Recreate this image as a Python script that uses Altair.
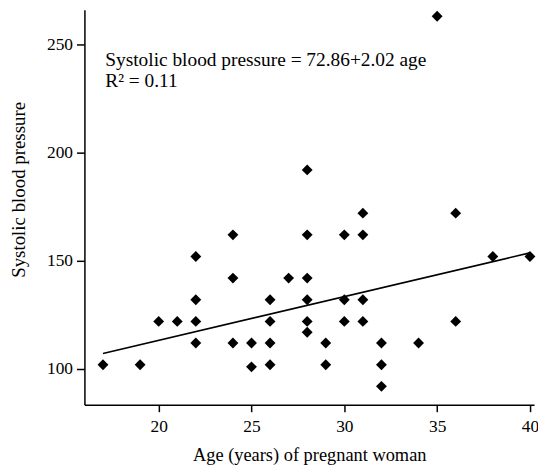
import altair as alt
import pandas as pd

ages = [17, 19, 20, 21, 22, 22, 22, 22, 24, 24, 24, 25, 25, 26, 26, 26, 26, 27,
        28, 28, 28, 28, 28, 28, 29, 29, 30, 30, 30, 31, 31, 31, 31, 32, 32, 32,
        34, 35, 36, 36, 38, 40]
sbp = [102, 102, 122, 122, 152, 132, 122, 112, 162, 142, 112, 112, 101, 132, 122, 112, 102, 142,
       192, 162, 142, 132, 122, 117, 112, 102, 162, 132, 122, 172, 162, 132, 122, 112, 102, 92,
       112, 263, 172, 122, 152, 152]

intercept = 72.86
slope = 2.02
line_x = [17, 40]
line_y = [intercept + slope * v for v in line_x]

eq_text = ["Systolic blood pressure = 72.86+2.02 age", "R² = 0.11"]

FONT = "Liberation Serif"

pts = pd.DataFrame({"age": ages, "sbp": sbp})
ln = pd.DataFrame({"age": line_x, "sbp": line_y})

xscale = alt.Scale(domain=[16, 40.22], nice=False, zero=False)
yscale = alt.Scale(domain=[83.5, 266], nice=False, zero=False)

xaxis = alt.Axis(
    title="Age (years) of pregnant woman", values=[20, 25, 30, 35, 40],
    grid=False, domainColor="black", domainWidth=1.5, tickColor="black",
    tickWidth=1.5, tickSize=7, labelFont=FONT, labelFontSize=17.5, labelColor="black",
    labelPadding=6, titleFont=FONT, titleFontSize=18.5, titleFontWeight="normal",
    titleColor="black", titleY=56, titleBaseline="alphabetic",
)
yaxis = alt.Axis(
    title="Systolic blood pressure", values=[100, 150, 200, 250],
    grid=False, domainColor="black", domainWidth=1.5, tickColor="black",
    tickWidth=1.5, tickSize=8, labelFont=FONT, labelFontSize=17.5, labelColor="black",
    labelPadding=4, titleFont=FONT, titleFontSize=19, titleFontWeight="normal",
    titleColor="black", titleX=-60, titleY=181, titleBaseline="alphabetic",
    titleAlign="center", titleAngle=270,
)

points = alt.Chart(pts).mark_point(
    shape="diamond", filled=True, color="black", size=120, opacity=1
).encode(
    x=alt.X("age:Q", scale=xscale, axis=xaxis),
    y=alt.Y("sbp:Q", scale=yscale, axis=yaxis),
)

line = alt.Chart(ln).mark_line(color="black", strokeWidth=1.6).encode(
    x=alt.X("age:Q", scale=xscale),
    y=alt.Y("sbp:Q", scale=yscale),
)

t1 = alt.Chart(pd.DataFrame({"t": [eq_text[0]]})).mark_text(
    font=FONT, fontSize=19.5, align="left", baseline="alphabetic", color="black"
).encode(text="t:N", x=alt.value(21), y=alt.value(57))

t2 = alt.Chart(pd.DataFrame({"t": [eq_text[1]]})).mark_text(
    font=FONT, fontSize=19.5, align="left", baseline="alphabetic", color="black"
).encode(text="t:N", x=alt.value(21), y=alt.value(78))

chart = alt.layer(line, points, t1, t2).properties(
    width=453, height=398,
    autosize=alt.AutoSizeParams(type="none"),
    padding={"left": 77, "top": 0, "right": 4, "bottom": 62},
).configure_view(stroke=None)

chart.save("out.html", embed_options={"renderer": "svg", "actions": False})
